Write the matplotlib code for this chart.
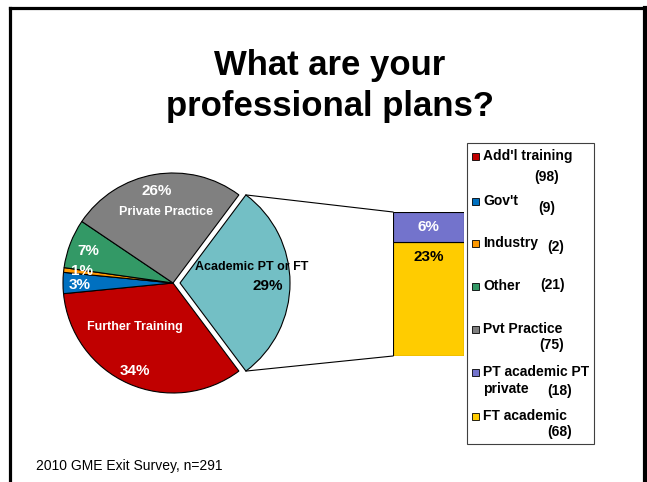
import matplotlib
matplotlib.use("Agg")
import matplotlib.pyplot as plt
from matplotlib.patches import Rectangle
import numpy as np

plt.rcParams['font.family'] = ['Liberation Sans', 'DejaVu Sans']

# ---- data -------------------------------------------------------------
categories = ["Add'l training", "Gov't", "Industry", "Other", "Pvt Practice", "Academic PT or FT"]
counts = [98, 9, 2, 21, 75, 86]
pie_colors = ["#C00000", "#0070C0", "#FF9900", "#339966", "#808080", "#73BFC5"]

academic_parts = ["PT academic PT private", "FT academic"]
academic_counts = [18, 68]
bar_colors = ["#7373CC", "#FFCC00"]

legend_labels = ["Add'l training", "Gov't", "Industry", "Other", "Pvt Practice",
                 "PT academic PT\nprivate", "FT academic"]
legend_counts = [98, 9, 2, 21, 75, 18, 68]
legend_colors = pie_colors[:5] + bar_colors

title_lines = ["What are your", "professional plans?"]
footer = "2010 GME Exit Survey, n=291"

total = sum(counts)

W, H = 647, 482
fig = plt.figure(figsize=(W / 100, H / 100), dpi=100)
ax = fig.add_axes([0, 0, 1, 1])


def Y(y):
    return H - y


# slide frame
ax.plot([9.5, 9.5], [Y(7.5), 0], color='black', lw=2.3, solid_capstyle='projecting')
ax.plot([9.5, W], [Y(7.5), Y(7.5)], color='black', lw=2.3, solid_capstyle='projecting')
ax.plot([645, 645], [Y(7.5), 0], color='black', lw=3.0, solid_capstyle='projecting')

# title and footer
for line, base in zip(title_lines, [75, 116]):
    ax.text(330, Y(base), line, ha='center', va='baseline', fontsize=25, fontweight='bold')
ax.text(36, Y(466), footer, ha='left', va='center', fontsize=10)

# ---- pie --------------------------------------------------------------
cx, cy, r = 173, Y(283), 110
acad_angle = counts[-1] / total * 360
start = -acad_angle / 2
gap = 7  # offset of the academic wedge, in axes units
explode = [0, 0, 0, 0, 0, gap]
wedges, _ = ax.pie(counts, colors=pie_colors, center=(cx, cy), radius=r,
                   startangle=start, counterclock=False, explode=explode,
                   wedgeprops=dict(edgecolor='black', linewidth=0.8))
ax.set_xlim(0, W)
ax.set_ylim(0, H)
ax.set_aspect('equal')
ax.axis('off')

pcts = [f"{round(c / total * 100)}%" for c in counts[:5]]
sub_pcts = [round(c / total * 100) for c in academic_counts]
pcts.append(f"{sum(sub_pcts)}%")

# pie labels
ax.text(157, Y(191), pcts[4], ha='center', va='center', color='white', fontsize=11, fontweight='bold')
ax.text(166, Y(212), "Private Practice", ha='center', va='center', color='white', fontsize=9, fontweight='bold')
ax.text(88, Y(251), pcts[3], ha='center', va='center', color='white', fontsize=11, fontweight='bold')
ax.text(82, Y(271), pcts[2], ha='center', va='center', color='white', fontsize=11, fontweight='bold')
ax.text(80, Y(285), pcts[1], ha='center', va='center', color='white', fontsize=11, fontweight='bold')
ax.text(135, Y(327), "Further Training", ha='center', va='center', color='white', fontsize=9, fontweight='bold')
ax.text(135, Y(371), pcts[0], ha='center', va='center', color='white', fontsize=11, fontweight='bold')
ax.text(252, Y(267), categories[5], ha='center', va='center', color='black', fontsize=9, fontweight='bold')
ax.text(268, Y(286), pcts[5], ha='center', va='center', color='black', fontsize=11, fontweight='bold')

# ---- breakdown bar ----------------------------------------------------
bx0, bw = 393, 71
by_top, by_bot = 212, 356
bax = fig.add_axes([bx0 / W, Y(by_bot) / H, bw / W, (by_bot - by_top) / H])
bottom = 0
stack = list(zip(academic_counts[::-1], bar_colors[::-1]))
bottoms = []
for val, col in stack:
    bax.bar(0, val, width=1, bottom=bottom, color=col, edgecolor='black', linewidth=0.8)
    bottoms.append(bottom)
    bottom += val
bax.set_xlim(-0.5, 0.5)
bax.set_ylim(0, sum(academic_counts))
bax.axis('off')
bax.patch.set_alpha(0)
# FT academic (bottom) and PT academic (top)
bax.text(0, bottoms[1] + academic_counts[0] / 2, f"{sub_pcts[0]}%", ha='center', va='center',
         color='white', fontsize=11, fontweight='bold')
bax.text(0, bottoms[0] + academic_counts[1] - 9, f"{sub_pcts[1]}%", ha='center', va='center',
         color='black', fontsize=11, fontweight='bold')

# connector lines from exploded wedge to bar
ex = cx + gap
th = np.deg2rad(acad_angle / 2)
ax.plot([ex + r * np.cos(th), bx0], [cy + r * np.sin(th), Y(by_top)], color='black', lw=0.8)
ax.plot([ex + r * np.cos(th), bx0], [cy - r * np.sin(th), Y(by_bot)], color='black', lw=0.8)

# ---- legend -----------------------------------------------------------
ax.add_patch(Rectangle((467, Y(444)), 127, 301, facecolor='white', edgecolor='#404040', lw=0.8))
label_y = [156, 201, 243, 286, 329, 372, 416]
count_pos = [(547, 177), (547, 208), (556, 247), (553, 285), (552, 345), (560, 391), (560, 432)]
for lab, cnt, col, ly, (qx, qy) in zip(legend_labels, legend_counts, legend_colors, label_y, count_pos):
    ax.add_patch(Rectangle((471.5, Y(ly) - 3.5), 7, 7, facecolor=col, edgecolor='black', lw=0.6))
    lines = lab.split("\n")
    for i, line in enumerate(lines):
        ax.text(483, Y(ly + i * 17), line, ha='left', va='center', fontsize=10, fontweight='bold')
    ax.text(qx, Y(qy), f"({cnt})", ha='center', va='center', fontsize=10, fontweight='bold')

fig.savefig("out.png", dpi=100)
